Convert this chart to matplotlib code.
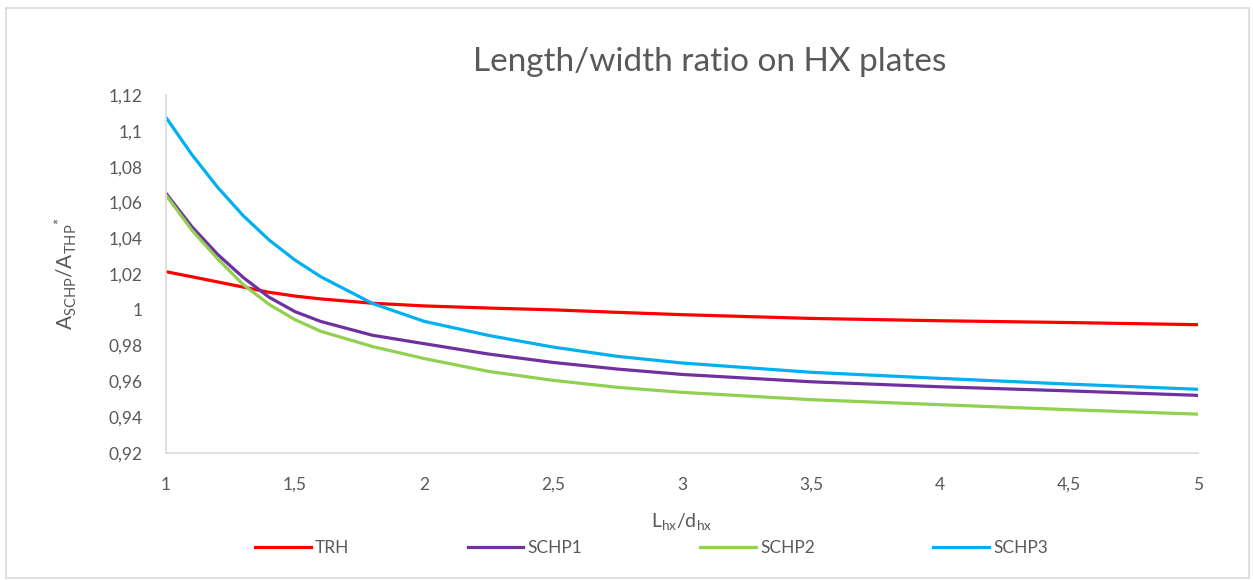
import matplotlib
matplotlib.use('Agg')
import matplotlib.pyplot as plt
from matplotlib.patches import Rectangle
from matplotlib.ticker import FuncFormatter

plt.rcParams['font.family'] = ['Lato', 'DejaVu Sans']
plt.rcParams['mathtext.fontset'] = 'custom'
plt.rcParams['mathtext.rm'] = 'Lato'
plt.rcParams['mathtext.it'] = 'Lato'

# Lhx/dhx values
x = [1, 1.1, 1.2, 1.3, 1.4, 1.5, 1.6, 1.8, 2, 2.25, 2.5, 2.75, 3, 3.5, 4, 4.5, 5]

# ASCHP/ATHP*
trh = [1.0213, 1.0185, 1.0156, 1.0127, 1.0098, 1.0077, 1.0061, 1.0037, 1.0022,
       1.0010, 1.0000, 0.9986, 0.9973, 0.9952, 0.9939, 0.9929, 0.9917]
schp1 = [1.0651, 1.0465, 1.0310, 1.0180, 1.0070, 0.9990, 0.9935, 0.9858, 0.9811,
         0.9753, 0.9706, 0.9669, 0.9639, 0.9598, 0.9570, 0.9547, 0.9522]
schp2 = [1.0641, 1.0446, 1.0285, 1.0140, 1.0030, 0.9945, 0.9880, 0.9795, 0.9728,
         0.9656, 0.9606, 0.9567, 0.9539, 0.9498, 0.9470, 0.9442, 0.9417]
schp3 = [1.1075, 1.0868, 1.0685, 1.0525, 1.0390, 1.0278, 1.0185, 1.0036, 0.9936,
         0.9857, 0.9792, 0.9740, 0.9703, 0.9651, 0.9617, 0.9585, 0.9556]

xticks = [1, 1.5, 2, 2.5, 3, 3.5, 4, 4.5, 5]
yticks = [0.92, 0.94, 0.96, 0.98, 1.0, 1.02, 1.04, 1.06, 1.08, 1.1, 1.12]

grey = '#595959'

def komma(v, pos=None):
    return f'{round(v, 2):g}'.replace('.', ',')

fig = plt.figure(figsize=(12.53, 5.8), dpi=100)
ax = fig.add_axes([0.1325, 0.219, 0.8235, 0.617])

ax.plot(x, trh, color='#FF0000', lw=2.3, label='TRH')
ax.plot(x, schp1, color='#7030A0', lw=2.3, label='SCHP1')
ax.plot(x, schp2, color='#92D050', lw=2.3, label='SCHP2')
ax.plot(x, schp3, color='#00B0F0', lw=2.3, label='SCHP3')

ax.set_xlim(1, 5)
ax.set_ylim(0.92, 1.12)
ax.set_xticks(xticks)
ax.set_yticks(yticks)
ax.xaxis.set_major_formatter(FuncFormatter(komma))
ax.yaxis.set_major_formatter(FuncFormatter(komma))
ax.tick_params(axis='both', length=0, labelsize=12.5, labelcolor=grey)
ax.tick_params(axis='y', pad=17)
ax.tick_params(axis='x', pad=17)

for s in ['top', 'right']:
    ax.spines[s].set_visible(False)
for s in ['left', 'bottom']:
    ax.spines[s].set_color('#D9D9D9')
    ax.spines[s].set_linewidth(1.2)

ax.set_xlabel(r'L$_{\mathregular{hx}}$/d$_{\mathregular{hx}}$', fontsize=14, color=grey)
ax.xaxis.set_label_coords(0.5, -0.163)
ax.set_ylabel(r'A$_{\mathregular{SCHP}}$/A$_{\mathregular{THP}}$$^{*}$', fontsize=15, color=grey)
ax.yaxis.set_label_coords(-0.084, 0.5)

fig.text(0.566, 0.893, 'Length/width ratio on HX plates', fontsize=24,
         color=grey, ha='center', va='center')

fig.legend(loc='center', bbox_to_anchor=(0.52, 0.055), ncol=4, frameon=False,
           fontsize=12.5, labelcolor=grey, handlelength=3.2, handletextpad=0.25,
           columnspacing=6.8)

fig.patches.append(Rectangle((0.005, 0.003), 0.992, 0.983, transform=fig.transFigure,
                             fill=False, edgecolor='#D9D9D9', lw=1.2))

fig.savefig('out.png', dpi=100, facecolor='white')
